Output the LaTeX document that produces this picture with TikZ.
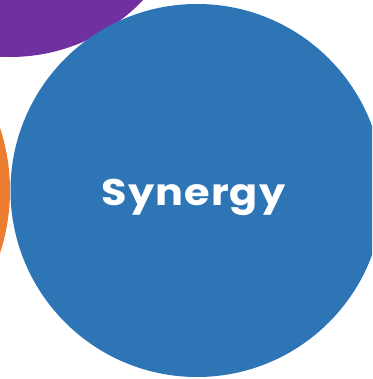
\documentclass[tikz,border=0pt]{standalone}
\usepackage{fontspec}
\setmainfont{Poppins}
\newfontfamily\labelfont[FakeStretch=1.12,LetterSpace=3]{Poppins}
\definecolor{cpurple}{HTML}{7030A0}
\definecolor{cblue}{HTML}{2E75B6}
\definecolor{corange}{HTML}{ED7D31}
\begin{document}
\begin{tikzpicture}[x=1pt,y=1pt]
\tikzset{disc/.style={circle,inner sep=0pt,outer sep=0pt}}
\useasboundingbox (0,0) rectangle (372,379);
\clip (0,0) rectangle (372,379);
\node[disc,fill=cpurple,minimum size=368pt] (purple) at (10,506) {};
\node[disc,fill=corange,minimum size=400pt] (orange) at (-190,188.5) {};
\node[disc,fill=cblue,minimum size=373pt] (blue) at (197,188.5) {};
\node[text=white,font=\labelfont\bfseries\fontsize{37}{40}\selectfont,anchor=base,inner sep=0pt] (label) at (193.5,173) {Synergy};
\end{tikzpicture}
\end{document}
